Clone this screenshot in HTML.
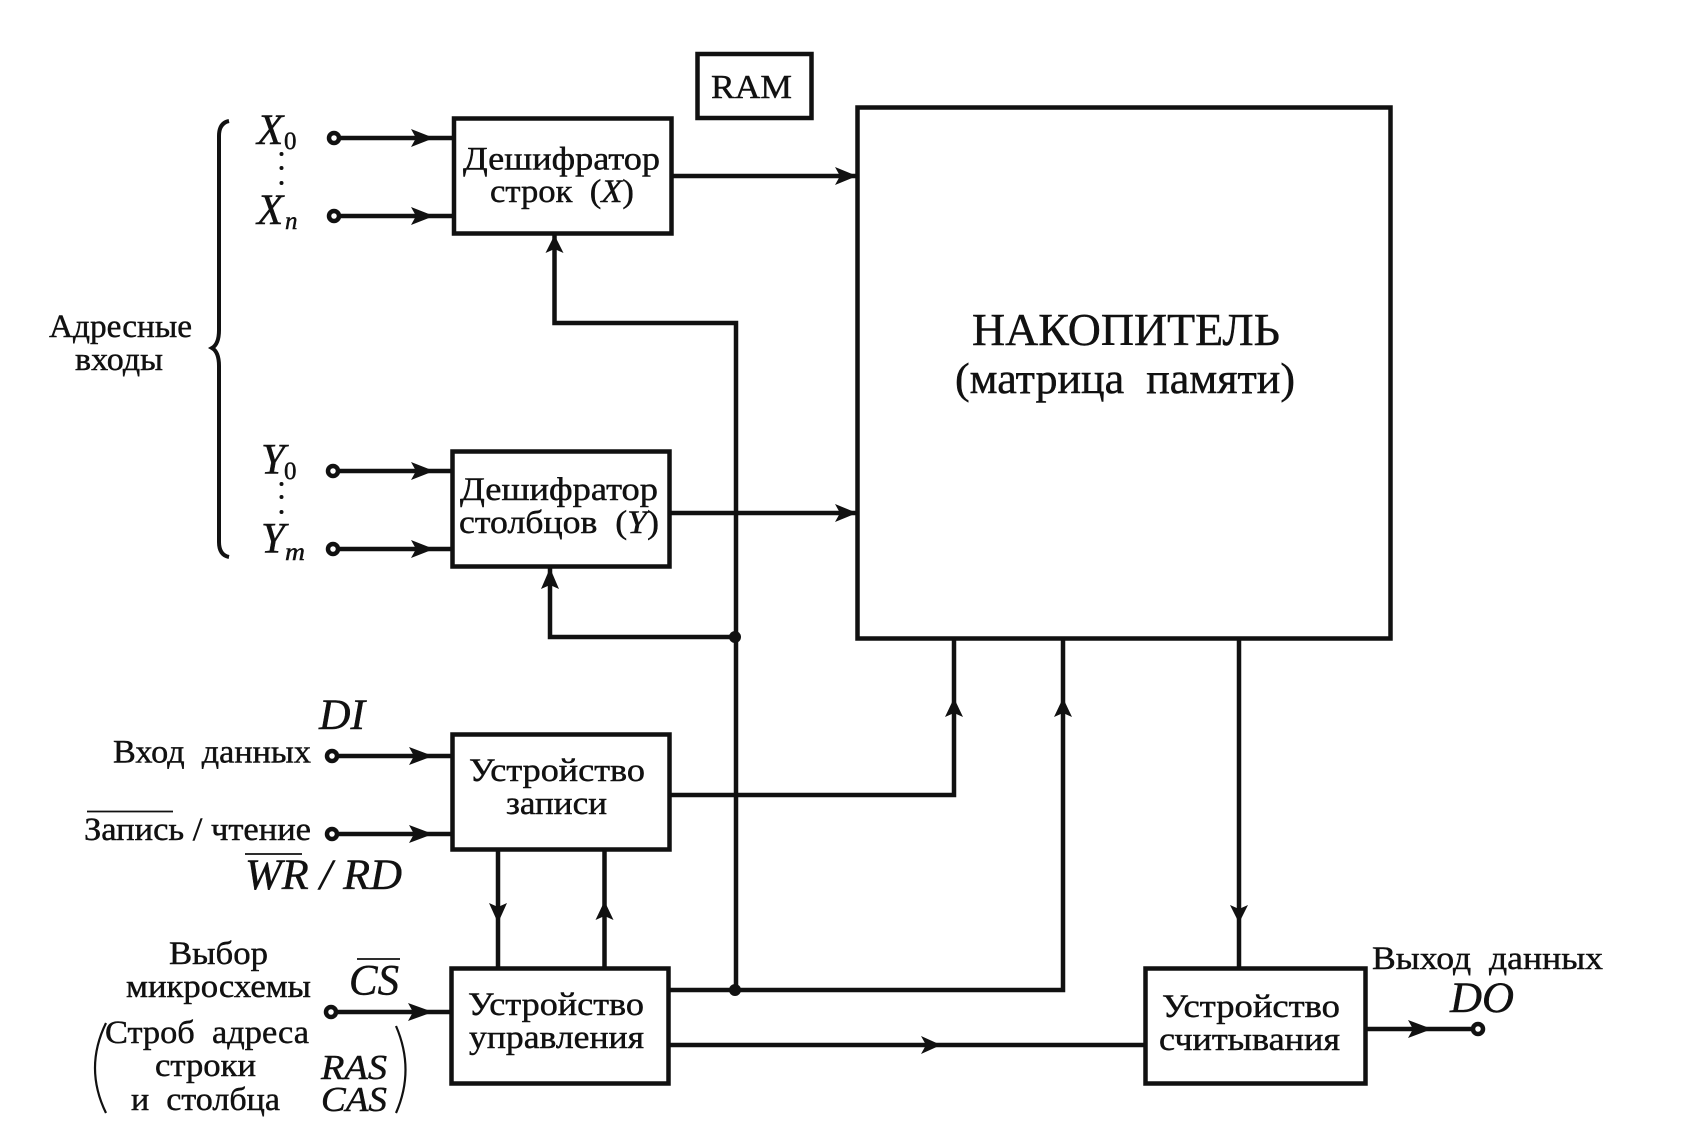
<!DOCTYPE html>
<html><head><meta charset="utf-8"><style>
html,body{margin:0;padding:0;background:#fff}
svg{display:block}
text{font-family:"Liberation Serif","DejaVu Serif",serif;fill:#111;stroke:#111;stroke-width:.45px}
.t{font-size:33px}
.i{font-style:italic;font-size:43px}
.s{font-style:italic;font-size:25px}
.b{fill:#fff;stroke:#111;stroke-width:4.5}
.l{fill:none;stroke:#111;stroke-width:4.5}
.a{fill:#111;stroke:none}
.c{fill:#fff;stroke:#111;stroke-width:4.5}
</style></head><body>
<svg width="1707" height="1136" viewBox="0 0 1707 1136" xmlns="http://www.w3.org/2000/svg">
<rect width="1707" height="1136" fill="#fff"/>
<!-- connectors -->
<path class="l" d="M332 138H453M333 216H453M332 471H452M332 549H452M331 756H452M331 834H452M330 1012H451"/>
<path class="l" d="M673 176H857M670 513H857"/>
<path class="l" d="M554.500 235V323H736V990"/>
<path class="l" d="M550 567V637H736"/>
<path class="l" d="M670 795H954V640"/>
<path class="l" d="M669 990H1063V640"/>
<path class="l" d="M669 1045H1145"/>
<path class="l" d="M1239 640V968"/>
<path class="l" d="M1366 1029H1479"/>
<path class="l" d="M498 850V968M604.500 850V968"/>
<!-- boxes -->
<rect class="b" x="697.500" y="54" width="114" height="64"/>
<rect class="b" x="454" y="118.500" width="217.500" height="115"/>
<rect class="b" x="452.500" y="451.500" width="217" height="115"/>
<rect class="b" x="857.500" y="107.500" width="533" height="531"/>
<rect class="b" x="452.500" y="734.500" width="217" height="115"/>
<rect class="b" x="451.500" y="968.500" width="217" height="115"/>
<rect class="b" x="1145.500" y="968.500" width="220" height="115"/>
<!-- arrowheads right -->
<path class="a" d="M434 138L411 129L416 138L411 147Z"/>
<path class="a" d="M434 216L411 207L416 216L411 225Z"/>
<path class="a" d="M434 471L411 462L416 471L411 480Z"/>
<path class="a" d="M434 549L411 540L416 549L411 558Z"/>
<path class="a" d="M433 756L409 747L414 756L409 765Z"/>
<path class="a" d="M433 834L409 825L414 834L409 843Z"/>
<path class="a" d="M433 1012L408 1003L413 1012L408 1021Z"/>
<path class="a" d="M857 176L835 167L840 176L835 185Z"/>
<path class="a" d="M857 513L835 504L840 513L835 522Z"/>
<path class="a" d="M941 1045L921 1036L926 1045L921 1054Z"/>
<path class="a" d="M1432 1029L1408 1020L1413 1029L1408 1038Z"/>
<!-- arrowheads up -->
<path class="a" d="M554.500 235L545.500 253L554.500 249L563.500 253Z"/>
<path class="a" d="M550 568L541 589L550 585L559 589Z"/>
<path class="a" d="M604.500 901L595.500 920L604.500 916L613.500 920Z"/>
<path class="a" d="M954 698L945 717L954 713L963 717Z"/>
<path class="a" d="M1063 698L1054 717L1063 713L1072 717Z"/>
<!-- arrowheads down -->
<path class="a" d="M498 923L489 903L498 907L507 903Z"/>
<path class="a" d="M1239 923L1230 905L1239 909L1248 905Z"/>
<!-- junctions -->
<circle cx="735" cy="637" r="6" fill="#111"/>
<circle cx="735" cy="990" r="6" fill="#111"/>
<!-- terminals -->
<circle class="c" cx="334" cy="138" r="5"/>
<circle class="c" cx="334" cy="216" r="5"/>
<circle class="c" cx="333" cy="471" r="5"/>
<circle class="c" cx="333" cy="549" r="5"/>
<circle class="c" cx="332" cy="756" r="5"/>
<circle class="c" cx="332" cy="834" r="5"/>
<circle class="c" cx="331" cy="1012" r="5"/>
<circle class="c" cx="1478" cy="1029" r="5"/>
<!-- dots -->
<g fill="#111"><circle cx="281.500" cy="154" r="2"/><circle cx="281.500" cy="168" r="2"/><circle cx="281.500" cy="183" r="2"/><circle cx="281.500" cy="484" r="2"/><circle cx="281.500" cy="497" r="2"/><circle cx="281.500" cy="512" r="2"/></g>
<!-- brace and parens -->
<path class="l" style="stroke-width:4" d="M229 121Q219 123 219 136V330Q219 344 212 348Q219 352 219 366V542Q219 555 229 557"/>
<path fill="none" stroke="#111" stroke-width="2.200" d="M106 1023Q84 1068 106 1113M396 1026Q415 1070 396 1113"/>
<!-- overlines -->
<path fill="none" stroke="#111" stroke-width="1.800" d="M87 811.500H173M245 854H302M357 959H400"/>
<!-- labels -->
<text x="711" y="98" font-size="34" textLength="81" lengthAdjust="spacingAndGlyphs">RAM</text>
<text class="t" x="463" y="169.500" textLength="197" lengthAdjust="spacingAndGlyphs">Дешифратор</text>
<text class="t" x="490" y="202" textLength="144" lengthAdjust="spacingAndGlyphs" xml:space="preserve">строк  (<tspan font-style="italic">X</tspan>)</text>
<text class="t" x="460" y="500" textLength="198" lengthAdjust="spacingAndGlyphs">Дешифратор</text>
<text class="t" x="459" y="533" textLength="200" lengthAdjust="spacingAndGlyphs" xml:space="preserve">столбцов  (<tspan font-style="italic">Y</tspan>)</text>
<text class="t" x="49" y="337" textLength="143" lengthAdjust="spacingAndGlyphs">Адресные</text>
<text class="t" x="75" y="370" textLength="88" lengthAdjust="spacingAndGlyphs">входы</text>
<text class="i" x="257" y="144">X</text><text x="284" y="149" font-size="25">0</text>
<text class="i" x="257" y="224">X</text><text class="s" x="285" y="229">n</text>
<text class="i" x="261" y="473.500">Y</text><text x="284" y="479" font-size="25">0</text>
<text class="i" x="261" y="552.500">Y</text><text class="s" x="285" y="560" textLength="20" lengthAdjust="spacingAndGlyphs">m</text>
<text x="972" y="345" font-size="46" textLength="308" lengthAdjust="spacingAndGlyphs">НАКОПИТЕЛЬ</text>
<text x="955" y="393" font-size="43" textLength="340" lengthAdjust="spacingAndGlyphs" xml:space="preserve">(матрица  памяти)</text>
<text class="i" x="319" y="729" textLength="46" lengthAdjust="spacingAndGlyphs">DI</text>
<text class="t" x="113" y="762.500" textLength="198" lengthAdjust="spacingAndGlyphs" xml:space="preserve">Вход  данных</text>
<text class="t" x="84" y="840" textLength="227" lengthAdjust="spacingAndGlyphs">Запись / чтение</text>
<text class="i" x="245" y="889" textLength="157" lengthAdjust="spacingAndGlyphs" xml:space="preserve">WR / RD</text>
<text class="t" x="169" y="964" textLength="99" lengthAdjust="spacingAndGlyphs">Выбор</text>
<text class="t" x="126" y="997" textLength="185" lengthAdjust="spacingAndGlyphs">микросхемы</text>
<text class="i" x="349" y="994.500" textLength="50" lengthAdjust="spacingAndGlyphs">CS</text>
<text class="t" x="105" y="1043" textLength="204" lengthAdjust="spacingAndGlyphs" xml:space="preserve">Строб  адреса</text>
<text class="t" x="155" y="1076" textLength="101" lengthAdjust="spacingAndGlyphs">строки</text>
<text class="t" x="131" y="1110" textLength="149" lengthAdjust="spacingAndGlyphs" xml:space="preserve">и  столбца</text>
<text x="321" y="1079" font-size="35" font-style="italic" textLength="66" lengthAdjust="spacingAndGlyphs">RAS</text>
<text x="321" y="1111" font-size="35" font-style="italic" textLength="66" lengthAdjust="spacingAndGlyphs">CAS</text>
<text class="t" x="469" y="781" textLength="176" lengthAdjust="spacingAndGlyphs">Устройство</text>
<text class="t" x="506" y="814" textLength="101" lengthAdjust="spacingAndGlyphs">записи</text>
<text class="t" x="468" y="1015" textLength="176" lengthAdjust="spacingAndGlyphs">Устройство</text>
<text class="t" x="469" y="1048" textLength="175" lengthAdjust="spacingAndGlyphs">управления</text>
<text class="t" x="1162" y="1017" textLength="178" lengthAdjust="spacingAndGlyphs">Устройство</text>
<text class="t" x="1159" y="1050" textLength="181" lengthAdjust="spacingAndGlyphs">считывания</text>
<text class="t" x="1372" y="969" textLength="231" lengthAdjust="spacingAndGlyphs" xml:space="preserve">Выход  данных</text>
<text class="i" x="1450" y="1012" textLength="64" lengthAdjust="spacingAndGlyphs">DO</text>
</svg>
</body></html>
